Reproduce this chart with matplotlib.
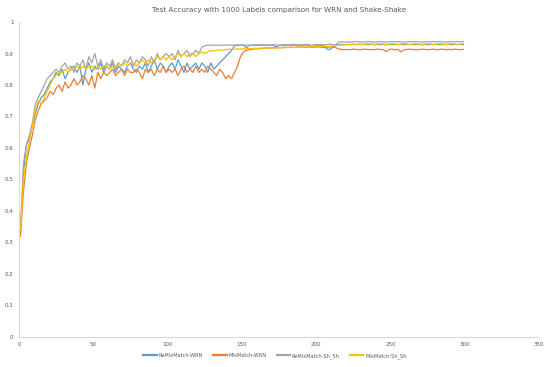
import numpy as np
import matplotlib.pyplot as plt

# epochs sampled every 2
epochs = np.arange(1, 301, 2)

remix_wrn = [
    0.33, 0.52, 0.61, 0.63, 0.67, 0.71, 0.74, 0.76, 0.77, 0.79,
    0.81, 0.82, 0.84, 0.83, 0.85, 0.82, 0.84, 0.85, 0.86, 0.84,
    0.86, 0.80, 0.85, 0.87, 0.84, 0.86, 0.85, 0.87, 0.84, 0.86,
    0.85, 0.87, 0.84, 0.86, 0.85, 0.84, 0.86, 0.87, 0.85, 0.84,
    0.86, 0.85, 0.87, 0.84, 0.86, 0.88, 0.85, 0.87, 0.86, 0.84,
    0.86, 0.87, 0.85, 0.88, 0.86, 0.84, 0.87, 0.85, 0.86, 0.87,
    0.85, 0.87, 0.86, 0.84, 0.87, 0.85, 0.86, 0.87, 0.88, 0.89,
    0.90, 0.91, 0.925, 0.926, 0.927, 0.926, 0.918, 0.926, 0.927, 0.926,
    0.927, 0.926, 0.927, 0.926, 0.927, 0.927, 0.920, 0.926, 0.927, 0.926,
    0.927, 0.926, 0.927, 0.926, 0.927, 0.926, 0.927, 0.926, 0.919, 0.926,
    0.927, 0.926, 0.927, 0.915, 0.912, 0.920, 0.926, 0.928, 0.929, 0.928,
    0.929, 0.928, 0.929, 0.928, 0.929, 0.928, 0.929, 0.928, 0.929, 0.928,
    0.929, 0.928, 0.929, 0.928, 0.929, 0.928, 0.929, 0.928, 0.929, 0.928,
    0.929, 0.928, 0.929, 0.928, 0.929, 0.928, 0.929, 0.928, 0.929, 0.928,
    0.929, 0.928, 0.929, 0.928, 0.929, 0.928, 0.929, 0.928, 0.929, 0.928,
]

mix_wrn = [
    0.32, 0.46, 0.55, 0.60, 0.64, 0.69, 0.72, 0.74, 0.75, 0.76,
    0.78, 0.77, 0.79, 0.80, 0.78, 0.81, 0.79, 0.80, 0.82, 0.80,
    0.81, 0.83, 0.82, 0.80, 0.83, 0.79, 0.84, 0.82, 0.84, 0.83,
    0.84, 0.85, 0.83, 0.84, 0.85, 0.83, 0.85, 0.84, 0.84, 0.85,
    0.84, 0.82, 0.85, 0.84, 0.85, 0.83, 0.85, 0.84, 0.86, 0.84,
    0.85, 0.84, 0.85, 0.83, 0.85, 0.86, 0.84, 0.85, 0.84, 0.86,
    0.84, 0.85, 0.84, 0.86, 0.85, 0.84, 0.83, 0.85, 0.84, 0.82,
    0.83, 0.82, 0.84, 0.86, 0.89, 0.905, 0.910, 0.912, 0.914, 0.915,
    0.915, 0.916, 0.917, 0.918, 0.917, 0.918, 0.919, 0.918, 0.919, 0.920,
    0.919, 0.920, 0.919, 0.920, 0.921, 0.920, 0.919, 0.920, 0.921, 0.920,
    0.921, 0.920, 0.919, 0.920, 0.921, 0.920, 0.919, 0.914, 0.913, 0.912,
    0.913, 0.912, 0.914, 0.913, 0.912, 0.913, 0.914, 0.912, 0.913, 0.912,
    0.914, 0.913, 0.912, 0.906, 0.913, 0.914, 0.912, 0.913, 0.905, 0.912,
    0.913, 0.914, 0.912, 0.913, 0.912, 0.914, 0.913, 0.912, 0.913, 0.914,
    0.912, 0.913, 0.914, 0.912, 0.913, 0.912, 0.914, 0.913, 0.912, 0.913,
]

remix_shsh = [
    0.34, 0.55, 0.61, 0.64, 0.68, 0.74, 0.76, 0.78, 0.80, 0.82,
    0.83, 0.84, 0.85, 0.84, 0.86, 0.87, 0.85, 0.86, 0.84, 0.87,
    0.86, 0.88, 0.85, 0.89, 0.87, 0.90, 0.86, 0.88, 0.85, 0.87,
    0.86, 0.88, 0.85, 0.87, 0.86, 0.88, 0.87, 0.89, 0.86, 0.88,
    0.87, 0.89, 0.88, 0.86, 0.89, 0.87, 0.90, 0.88, 0.89, 0.90,
    0.89, 0.90, 0.88, 0.91, 0.89, 0.90, 0.91, 0.89, 0.90, 0.91,
    0.90, 0.92, 0.925, 0.926, 0.926, 0.927, 0.926, 0.927, 0.926, 0.927,
    0.927, 0.926, 0.927, 0.927, 0.926, 0.927, 0.927, 0.926, 0.927, 0.927,
    0.927, 0.928, 0.927, 0.926, 0.927, 0.928, 0.927, 0.926, 0.927, 0.928,
    0.927, 0.928, 0.929, 0.927, 0.928, 0.927, 0.929, 0.928, 0.927, 0.928,
    0.929, 0.928, 0.927, 0.928, 0.930, 0.928, 0.927, 0.936, 0.937, 0.936,
    0.937, 0.936, 0.937, 0.938, 0.937, 0.936, 0.937, 0.938, 0.937, 0.936,
    0.937, 0.938, 0.937, 0.936, 0.937, 0.938, 0.937, 0.938, 0.937, 0.936,
    0.937, 0.938, 0.937, 0.938, 0.937, 0.936, 0.937, 0.938, 0.937, 0.938,
    0.937, 0.938, 0.937, 0.936, 0.937, 0.938, 0.937, 0.938, 0.937, 0.938,
]

mix_shsh = [
    0.34, 0.50, 0.57, 0.62, 0.67, 0.72, 0.75, 0.74, 0.76, 0.78,
    0.80, 0.82, 0.83, 0.84, 0.84, 0.85, 0.84, 0.85, 0.85, 0.86,
    0.85, 0.86, 0.85, 0.86, 0.86, 0.85, 0.86, 0.85, 0.86, 0.86,
    0.85, 0.86, 0.86, 0.87, 0.86, 0.87, 0.86, 0.87, 0.87, 0.86,
    0.87, 0.88, 0.87, 0.88, 0.87, 0.88, 0.89, 0.88, 0.89, 0.88,
    0.89, 0.88, 0.89, 0.90, 0.89, 0.90, 0.89, 0.90, 0.90, 0.89,
    0.90, 0.905, 0.90, 0.905, 0.910, 0.908, 0.910, 0.912, 0.910, 0.912,
    0.913, 0.914, 0.913, 0.915, 0.914, 0.915, 0.916, 0.915, 0.916, 0.917,
    0.916, 0.917, 0.918, 0.917, 0.918, 0.917, 0.918, 0.919, 0.918, 0.919,
    0.919, 0.920, 0.919, 0.920, 0.921, 0.920, 0.921, 0.920, 0.921, 0.922,
    0.921, 0.922, 0.923, 0.922, 0.923, 0.924, 0.925, 0.926, 0.927, 0.928,
    0.928, 0.929, 0.930, 0.929, 0.930, 0.929, 0.930, 0.931, 0.930, 0.929,
    0.930, 0.931, 0.930, 0.929, 0.930, 0.931, 0.930, 0.929, 0.930, 0.931,
    0.930, 0.929, 0.930, 0.931, 0.930, 0.929, 0.930, 0.931, 0.930, 0.929,
    0.930, 0.931, 0.930, 0.929, 0.930, 0.931, 0.930, 0.929, 0.930, 0.931,
]

labels = ['ReMixMatch-WRN', 'MixMatch-WRN', 'ReMixMatch-Sh_Sh', 'MixMatch-Sh_Sh']
colors = ['#5B9BD5', '#ED7D31', '#A5A5A5', '#FFC000']

fig = plt.figure(figsize=(5.5, 3.67), dpi=100)
ax = fig.add_axes([0.0345, 0.082, 0.946, 0.858])

for ys, lab, c in zip([remix_wrn, mix_wrn, remix_shsh, mix_shsh], labels, colors):
    ax.plot(epochs, ys, color=c, lw=0.9, label=lab)

ax.set_xlim(0, 350)
ax.set_ylim(0, 1)
ax.set_xticks(range(0, 351, 50))
ax.set_yticks(np.arange(0, 1.01, 0.1))
ax.set_yticklabels(['0', '0.1', '0.2', '0.3', '0.4', '0.5', '0.6', '0.7', '0.8', '0.9', '1'])
ax.tick_params(labelsize=4, colors='#595959', length=0, pad=4)
for s in ['top', 'right']:
    ax.spines[s].set_visible(False)
for s in ['left', 'bottom']:
    ax.spines[s].set_color('#D9D9D9')

ax.set_title('Test Accuracy with 1000 Labels comparison for WRN and Shake-Shake',
             fontsize=5.2, color='#595959', pad=7.5)
leg = fig.legend(loc='center', bbox_to_anchor=(0.5, 0.03), ncol=4, frameon=False,
                 fontsize=3.6, labelcolor='#595959', handlelength=2.7,
                 handletextpad=0.4, columnspacing=2.0)
for h in leg.get_lines():
    h.set_linewidth(1.6)

fig.savefig('out.png', dpi=100)
